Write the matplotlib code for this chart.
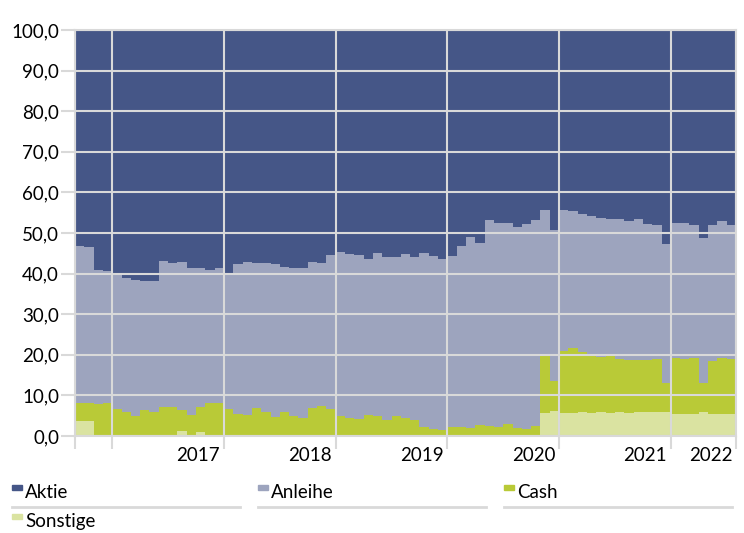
import matplotlib.pyplot as plt
import matplotlib.transforms as mtransforms
from matplotlib.patches import Rectangle
from matplotlib.lines import Line2D
import numpy as np

plt.rcParams['font.family'] = ['Lato', 'DejaVu Sans']

# Monatswerte Sep 2016 - Jul 2022 (Anteile in %)
sonstige = [3.8, 3.8, 0, 0,
            0, 0, 0, 0, 0, 0, 0, 1.3, 0, 1.0, 0, 0,
            0, 0, 0, 0, 0, 0, 0, 0, 0, 0, 0, 0,
            0, 0, 0, 0, 0, 0, 0, 0, 0, 0, 0, 0,
            0, 0, 0, 0, 0, 0, 0, 0, 0, 0, 5.7, 6.2,
            5.7, 5.7, 5.8, 5.7, 5.8, 5.7, 5.8, 5.7, 5.8, 5.8, 5.8, 5.9,
            5.5, 5.4, 5.4, 5.9, 5.4, 5.5, 5.5]
cash = [4.3, 4.4, 7.8, 8.1,
        6.7, 5.8, 4.9, 6.3, 5.8, 7.1, 7.1, 5.1, 5.1, 6.1, 8.1, 8.2,
        6.7, 5.3, 5.1, 6.9, 6.0, 4.8, 5.9, 4.9, 4.5, 7.0, 7.5, 6.7,
        4.9, 4.5, 4.2, 5.1, 5.0, 4.0, 4.9, 4.4, 4.0, 2.2, 1.8, 1.6,
        2.1, 2.2, 2.0, 2.7, 2.4, 2.2, 2.9, 2.0, 1.8, 2.4, 14.0, 7.3,
        15.3, 15.9, 14.8, 14.1, 13.6, 14.1, 13.2, 13.0, 12.9, 12.9, 13.2, 7.1,
        13.7, 13.6, 13.8, 7.2, 13.1, 13.7, 13.5]
anleihe = [38.7, 38.3, 33.0, 32.5,
           32.9, 33.1, 33.5, 32.0, 32.4, 36.0, 35.4, 36.4, 36.2, 34.2, 32.8, 33.1,
           33.1, 37.0, 37.7, 35.6, 36.5, 37.6, 35.7, 36.6, 36.9, 35.9, 35.2, 37.9,
           40.3, 40.3, 40.4, 38.6, 40.0, 40.0, 39.3, 40.4, 40.0, 42.8, 42.5, 42.0,
           42.3, 44.7, 47.1, 44.8, 50.7, 50.3, 49.5, 49.6, 50.3, 50.8, 36.0, 37.2,
           34.7, 33.8, 34.1, 34.4, 34.4, 33.6, 34.5, 34.3, 34.7, 33.5, 33.0, 34.4,
           33.2, 33.5, 32.8, 35.6, 33.5, 33.8, 33.0]
aktie = [53.2, 53.5, 59.2, 59.4,
         60.4, 61.1, 61.6, 61.7, 61.8, 56.9, 57.5, 57.2, 58.7, 58.7, 59.1, 58.7,
         60.2, 57.7, 57.2, 57.5, 57.5, 57.6, 58.4, 58.5, 58.6, 57.1, 57.3, 55.4,
         54.8, 55.2, 55.4, 56.3, 55.0, 56.0, 55.8, 55.2, 56.0, 55.0, 55.7, 56.4,
         55.6, 53.1, 50.9, 52.5, 46.9, 47.5, 47.6, 48.4, 47.9, 46.8, 44.3, 49.3,
         44.3, 44.6, 45.3, 45.8, 46.2, 46.6, 46.5, 47.0, 46.6, 47.8, 48.0, 52.6,
         47.6, 47.5, 48.0, 51.3, 48.0, 47.0, 48.0]

jahre = ['2017', '2018', '2019', '2020', '2021', '2022']
jahr_ende = [16, 28, 40, 52, 64, 71]   # Index nach dem letzten Monat des Jahres
grenzen = [0, 4, 16, 28, 40, 52, 64, 71]

farben = {'Aktie': '#455687', 'Anleihe': '#9da4be', 'Cash': '#b9ca37', 'Sonstige': '#dae3a1'}
grau = '#d9d9d9'

W, H = 744, 533
fig = plt.figure(figsize=(W / 100, H / 100), dpi=100)
ax = fig.add_axes([75 / W, 1 - 436 / H, (736 - 75) / W, (436 - 30) / H])

x = np.arange(len(aktie))
unten = np.zeros(len(aktie))
for name, werte in [('Sonstige', sonstige), ('Cash', cash), ('Anleihe', anleihe), ('Aktie', aktie)]:
    ax.bar(x, werte, width=1.0, bottom=unten, align='edge', color=farben[name], linewidth=0, zorder=1)
    unten = unten + np.array(werte)

ax.set_xlim(0, len(aktie))
ax.set_ylim(0, 100)

# Gitter über den Balken
ax.set_axisbelow(False)
ax.set_yticks(np.arange(0, 101, 10))
ax.yaxis.set_major_formatter(plt.FuncFormatter(lambda v, p: f'{v:.1f}'.replace('.', ',')))
ax.set_xticks(grenzen)
ax.set_xticklabels([])
ax.grid(True, color=grau, linewidth=1.5)
ax.tick_params(axis='y', length=10, width=1.5, color=grau, pad=1.5, labelsize=13.5)
ax.tick_params(axis='x', length=9, width=1.5, color=grau)
for s in ax.spines.values():
    s.set_color(grau)
    s.set_linewidth(1.5)

trans = mtransforms.blended_transform_factory(ax.transData, ax.transAxes)
for j, e in zip(jahre, jahr_ende):
    ax.text(e - 0.4, -0.047, j, transform=trans, ha='right', va='center', fontsize=13.5)

# Legende
eintraege = [('Aktie', 12, 492), ('Anleihe', 258, 492), ('Cash', 504, 492), ('Sonstige', 12, 521)]
for name, px, py in eintraege:
    fig.patches.append(Rectangle((px / W, 1 - (py - 2) / H), 10 / W, 5 / H,
                                 transform=fig.transFigure, color=farben[name]))
    fig.text((px + 13) / W, 1 - py / H, name, ha='left', va='center', fontsize=13.5)
for px in [12, 258, 504]:
    fig.lines.append(Line2D([px / W, (px + 228) / W], [1 - 507 / H] * 2,
                            transform=fig.transFigure, color=grau, linewidth=2))

fig.savefig('out.png', dpi=100)
